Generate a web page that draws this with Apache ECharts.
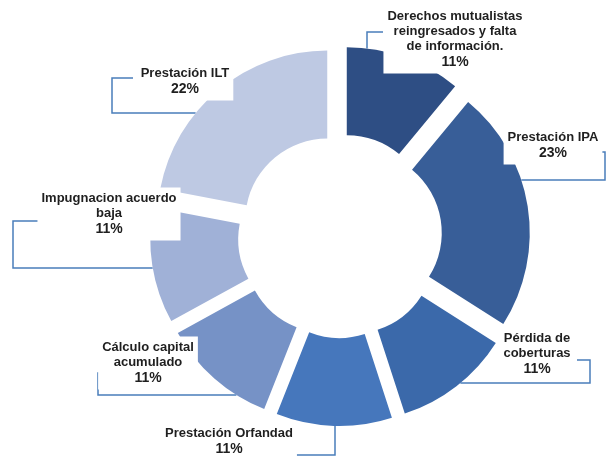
<!DOCTYPE html>
<html><head><meta charset="utf-8">
<script src="https://cdn.jsdelivr.net/npm/echarts@6/dist/echarts.min.js"></script>
<style>html,body{margin:0;padding:0;background:#fff}#c{width:606px;height:458px}</style>
</head><body><div id="c"></div>
<script>
// ---- data ----
const categories = [
  'Derechos mutualistas\nreingresados y falta\nde información.',
  'Prestación IPA',
  'Pérdida de\ncoberturas',
  'Prestación Orfandad',
  'Cálculo capital\nacumulado',
  'Impugnacion acuerdo\nbaja',
  'Prestación ILT'
];
const shares = [11, 23, 11, 11, 11, 11, 22];
const sliceColors = ['#2E4E84', '#385E98', '#3B69AA', '#4677BC', '#7692C6', '#A0B1D7', '#BEC9E3'];

// ---- layout (not data) ----
const CX = 340, CY = 236, R_IN = 82, R_OUT = 170, EXPLODE = 20;
const NAME_LH = 15, PAD = [3, 4, 2, 4];
// first-line centre of each label + leader bracket (final segment runs to the slice)
const labelSpots = [
  {x: 455, y: 16,  line: [[383, 32], [367, 32]], end: 'down'},
  {x: 553, y: 137, line: [[597, 152], [605, 152], [605, 180]], end: 'left'},
  {x: 537, y: 338, line: [[577, 360], [590, 360], [590, 383]], end: 'left'},
  {x: 229, y: 433, line: [[270, 455], [335, 455]], end: 'up'},
  {x: 148, y: 347, line: [[110, 373], [98, 373], [98, 395]], end: 'right'},
  {x: 109, y: 198, line: [[42, 221], [13, 221], [13, 268]], end: 'right'},
  {x: 185, y: 73,  line: [[133, 78], [112, 78], [112, 113]], end: 'right'}
];

const total = shares.reduce((a, b) => a + b, 0);
function shiftedCenter(i) {
  let before = 0;
  for (let k = 0; k < i; k++) before += shares[k];
  const mid = (before + shares[i] / 2) / total * Math.PI * 2;
  return [CX + EXPLODE * Math.sin(mid), CY - EXPLODE * Math.cos(mid)];
}
function leaderPoints(i) {
  const s = labelSpots[i];
  const pts = s.line.map(p => p.slice());
  const last = pts[pts.length - 1];
  const [sx, sy] = shiftedCenter(i);
  let end;
  if (s.end === 'left' || s.end === 'right') {
    const h = Math.sqrt(Math.max(0, R_OUT * R_OUT - (last[1] - sy) ** 2));
    end = [s.end === 'left' ? sx + h : sx - h, last[1]];
  } else {
    const h = Math.sqrt(Math.max(0, R_OUT * R_OUT - (last[0] - sx) ** 2));
    end = [last[0], s.end === 'down' ? sy - h : sy + h];
  }
  pts.push(end);
  return pts.reverse();
}

const labelOpt = {
  show: true,
  position: 'outside',
  backgroundColor: '#ffffff',
  padding: PAD,
  align: 'center',
  formatter: p => `{n|${p.name}}\n{p|${p.value}%}`,
  rich: {
    n: {fontFamily: 'Liberation Sans', fontWeight: 'bold', fontSize: 13, lineHeight: NAME_LH, color: '#1f1f1f', align: 'center'},
    p: {fontFamily: 'Liberation Sans', fontWeight: 'bold', fontSize: 14, lineHeight: 18, color: '#1f1f1f', align: 'center'}
  }
};

// one exploded slice per series (its centre pushed outward along its mid-angle)
const series = categories.map((_, i) => ({
  type: 'pie',
  center: shiftedCenter(i),
  radius: [R_IN, R_OUT],
  startAngle: 90,
  clockwise: true,
  silent: true,
  avoidLabelOverlap: false,
  itemStyle: {borderWidth: 0},
  emphasis: {disabled: true},
  data: categories.map((name, k) => ({
    name, value: shares[k],
    itemStyle: {color: k === i ? sliceColors[k] : 'rgba(0,0,0,0)'},
    label: k === i ? labelOpt : {show: false},
    labelLine: {show: k === i, lineStyle: {color: '#4A7EBB', width: 1.5}}
  })),
  labelLayout: function (params) {
    if (params.dataIndex !== i) return {};
    const s = labelSpots[i];
    return {
      x: s.x,
      y: s.y - NAME_LH / 2 - PAD[0],
      align: 'center',
      verticalAlign: 'top',
      labelLinePoints: leaderPoints(i)
    };
  }
}));

const chart = echarts.init(document.getElementById('c'), null, {renderer: 'canvas'});
chart.setOption({animation: false, backgroundColor: '#ffffff', series});
</script>
</body></html>
